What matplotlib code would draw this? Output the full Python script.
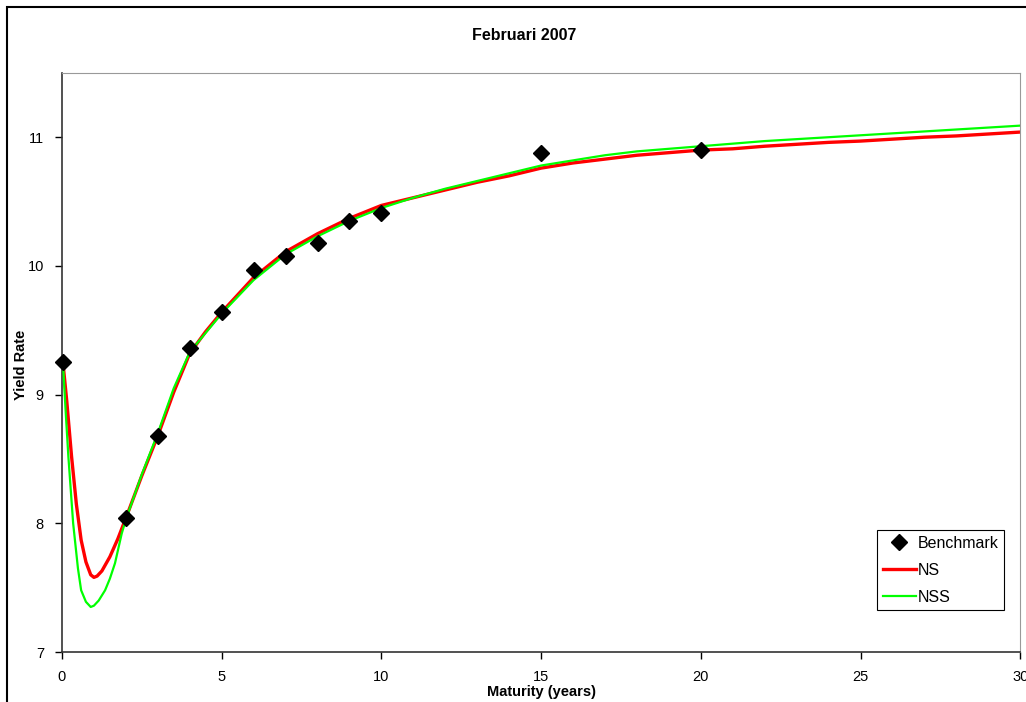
import matplotlib.pyplot as plt
from matplotlib.patches import Rectangle

plt.rcParams['font.family'] = ['Liberation Sans', 'DejaVu Sans']

# benchmark yields
bench_t = [0.03, 2, 3, 4, 5, 6, 7, 8, 9, 10, 15, 20]
bench_y = [9.25, 8.04, 8.68, 9.36, 9.64, 9.97, 10.08, 10.18, 10.35, 10.41, 10.875, 10.90]

# Nelson-Siegel fit
ns_t = [0.03, 0.15, 0.3, 0.45, 0.6, 0.75, 0.9, 1.0, 1.1, 1.25, 1.5, 1.75, 2, 2.5, 3, 3.5, 4, 4.5,
        5, 6, 7, 8, 9, 10, 11, 12, 13, 14, 15, 16, 17, 18, 19, 20, 21, 22, 23, 24, 25, 26, 27,
        28, 29, 30]
ns_y = [9.25, 8.95, 8.52, 8.15, 7.87, 7.70, 7.60, 7.58, 7.59, 7.63, 7.74, 7.88, 8.04, 8.37,
        8.68, 9.02, 9.32, 9.49, 9.64, 9.91, 10.11, 10.25, 10.37, 10.47, 10.53, 10.59, 10.65,
        10.70, 10.76, 10.80, 10.83, 10.86, 10.88, 10.90, 10.91, 10.93, 10.945, 10.96, 10.97,
        10.985, 11.0, 11.01, 11.025, 11.04]

# Nelson-Siegel-Svensson fit
nss_t = [0.03, 0.12, 0.2, 0.35, 0.5, 0.6, 0.75, 0.9, 1.0, 1.15, 1.35, 1.5, 1.66, 1.87, 2, 2.5,
         3, 3.5, 4, 5, 6, 7, 8, 9, 10, 11, 12, 13, 14, 15, 16, 17, 18, 19, 20, 22, 24, 26, 28, 30]
nss_y = [9.25, 8.85, 8.52, 8.00, 7.65, 7.48, 7.39, 7.35, 7.36, 7.40, 7.48, 7.57, 7.69, 7.92,
         8.03, 8.38, 8.70, 9.05, 9.33, 9.63, 9.89, 10.09, 10.23, 10.35, 10.45, 10.53, 10.60,
         10.66, 10.72, 10.78, 10.82, 10.86, 10.89, 10.91, 10.93, 10.97, 11.00, 11.03, 11.06,
         11.09]

fig = plt.figure(figsize=(10.26, 7.02), dpi=100)
# outer chart border
fig.patches.append(Rectangle((7 / 1026, -0.1), 1.2, 1.1 - 7 / 702, transform=fig.transFigure,
                             fill=False, edgecolor='black', linewidth=1.5))

ax = fig.add_axes([0.0604, 0.0712, 0.934, 0.825])
ax.plot(ns_t, ns_y, color='#ff0000', linewidth=2.4, label='NS', zorder=2)
ax.plot(nss_t, nss_y, color='#00ff00', linewidth=1.6, label='NSS', zorder=3)
ax.plot(bench_t, bench_y, 'D', color='black', markersize=8, linestyle='none',
        label='Benchmark', zorder=4, clip_on=False)

ax.set_xlim(0, 30)
ax.set_ylim(7, 11.5)
ax.set_xticks(range(0, 31, 5))
ax.set_yticks([7, 8, 9, 10, 11])
ax.tick_params(direction='out', length=5, width=1, labelsize=10.5, pad=8)
for s in ['top', 'right']:
    ax.spines[s].set_color('#999999')
for s in ['left', 'bottom']:
    ax.spines[s].set_color('#333333')
    ax.spines[s].set_linewidth(1.2)

ax.set_xlabel('Maturity (years)', fontsize=10.5, fontweight='bold', labelpad=1)
ax.set_ylabel('Yield Rate', fontsize=10.5, fontweight='bold')
ax.yaxis.set_label_coords(-0.035, 0.495)
fig.text(0.511, 0.95, 'Februari 2007', ha='center', va='center', fontsize=11.5, fontweight='bold')

h, l = ax.get_legend_handles_labels()
order = [2, 0, 1]
leg = ax.legend([h[i] for i in order], [l[i] for i in order], loc='lower right',
                bbox_to_anchor=(0.9833, 0.072), fontsize=11.5, fancybox=False, framealpha=1,
                edgecolor='black', borderpad=0.35, handlelength=2.1, handletextpad=0.1,
                labelspacing=0.75, borderaxespad=0)
leg.get_frame().set_linewidth(0.8)

fig.savefig('out.png', dpi=100)
